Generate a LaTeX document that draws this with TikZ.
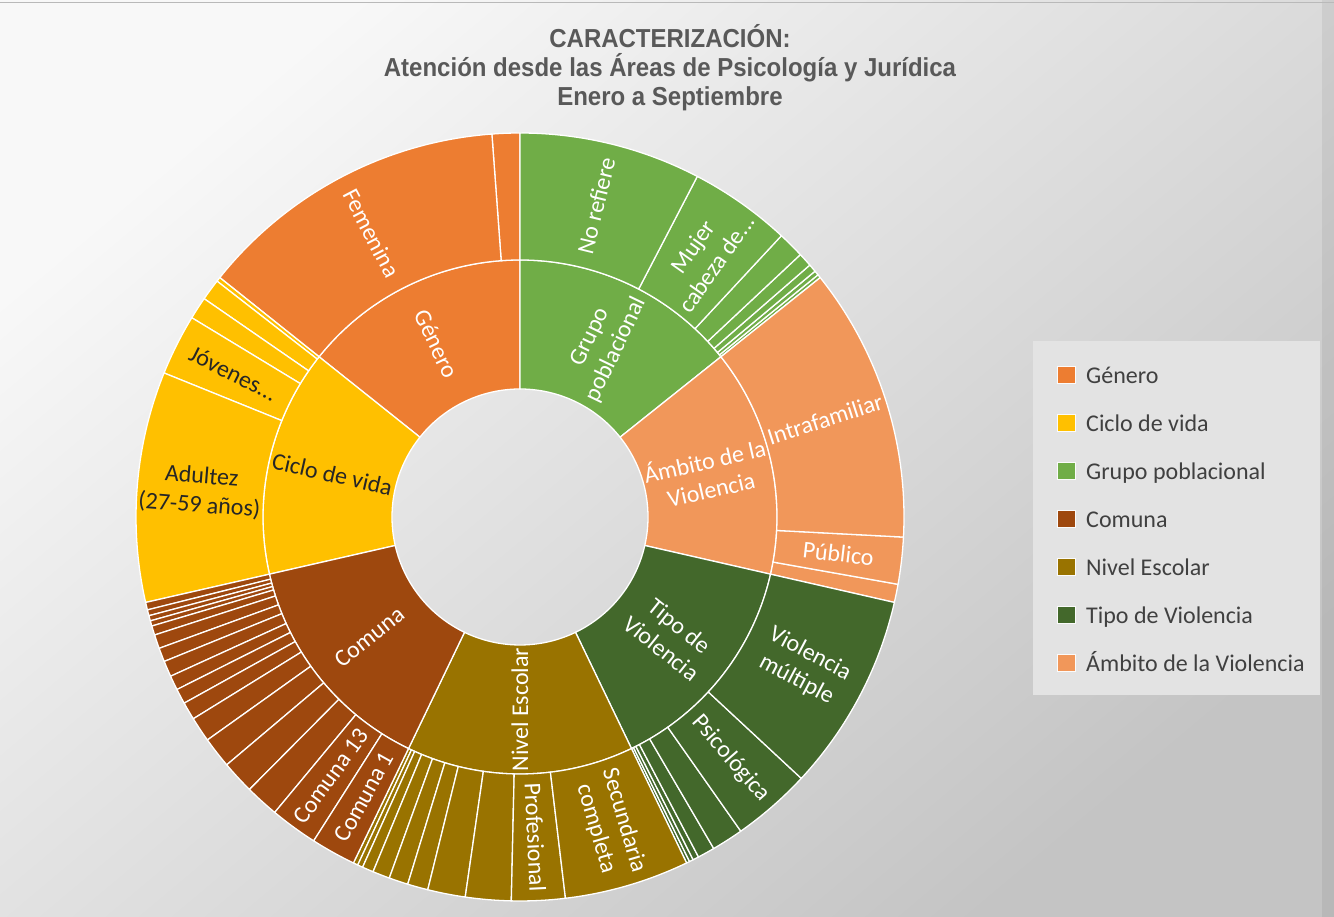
\documentclass[tikz,border=0pt]{standalone}
\usepackage{fontspec}
\setmainfont{Carlito}
\newfontfamily\titlef{Liberation Sans}
\definecolor{cG}{HTML}{ED7D31}
\definecolor{cY}{HTML}{FFC000}
\definecolor{cP}{HTML}{70AD47}
\definecolor{cC}{HTML}{9E480E}
\definecolor{cN}{HTML}{997300}
\definecolor{cT}{HTML}{43682B}
\definecolor{cA}{HTML}{F1975A}
\definecolor{bgin}{HTML}{F8F8F8}
\definecolor{bgout}{HTML}{C4C4C4}
\definecolor{legbg}{HTML}{E3E3E3}
\definecolor{titlec}{HTML}{595959}
\definecolor{legtxt}{HTML}{404040}
\definecolor{txtdark}{HTML}{262626}
\newcommand\lblf{\fontsize{24}{29}\selectfont}
\newcommand\sunseg[5]{\fill[#5, seg] (#1:#3) arc[start angle=#1, end angle=#2, radius=#3] -- (#2:#4) arc[start angle=#2, end angle=#1, radius=#4] -- cycle;}
\tikzset{
  seg/.style={draw=white, line width=1.3pt, line join=round},
  lblW/.style={text=white, font=\lblf, align=center, inner sep=0pt},
  lblD/.style={lblW, text=txtdark},
  ttl/.style={text=titlec, font=\titlef\bfseries\fontsize{26}{29}\selectfont, inner sep=0pt, anchor=base},
  legt/.style={text=legtxt, font=\fontsize{24}{29}\selectfont, inner sep=0pt, anchor=base west},
}
\begin{document}
\begin{tikzpicture}[x=1pt,y=1pt]
\useasboundingbox (0,0) rectangle (1334,917);
% background
\shade[top color=bgin, bottom color=bgout, shading angle=40] (0,0) rectangle (1334,917);
\fill[black, opacity=0.06] (1322,0) rectangle (1334,917);
\draw[gray!55, line width=1pt] (0,914.5) -- (1334,914.5);
% title
\node[ttl] (t1) at (670,869) {\scalebox{0.923}[1]{CARACTERIZACIÓN:}};
\node[ttl] (t2) at (670,840) {\scalebox{0.923}[1]{Atención desde las Áreas de Psicología y Jurídica}};
\node[ttl] (t3) at (670,811) {\scalebox{0.923}[1]{Enero a Septiembre}};
% sunburst
\begin{scope}[shift={(520,400)}]
  % inner ring
  \sunseg{90}{141.43}{128}{257}{cG}
  \sunseg{141.43}{192.86}{128}{257}{cY}
  \sunseg{38.57}{90}{128}{257}{cP}
  \sunseg{-12.86}{38.57}{128}{257}{cA}
  \sunseg{-64.29}{-12.86}{128}{257}{cT}
  \sunseg{-115.71}{-64.29}{128}{257}{cN}
  \sunseg{192.86}{244.29}{128}{257}{cC}
  % outer ring
  \foreach \a/\b in {90/94.2, 94.2/141.43}{\sunseg{\a}{\b}{257}{384}{cG}}
  \foreach \a/\b in {141.43/142.1, 142.1/145.35, 145.35/148.74, 148.74/157.97, 157.97/192.86}{\sunseg{\a}{\b}{257}{384}{cY}}
  \foreach \a/\b in {38.57/39.1, 39.1/39.8, 39.8/41.0, 41.0/43.1, 43.1/47.1, 47.1/62.5, 62.5/90}{\sunseg{\a}{\b}{257}{384}{cP}}
  \foreach \a/\b in {-12.86/-10.1, -10.1/-3.0, -3.0/38.57}{\sunseg{\a}{\b}{257}{384}{cA}}
  \foreach \a/\b in {-64.29/-63.8, -63.8/-63.2, -63.2/-62.3, -62.3/-59.7, -59.7/-54.9, -54.9/-42.9, -42.9/-12.86}{\sunseg{\a}{\b}{257}{384}{cT}}
  \foreach \a/\b in {-115.71/-115.0, -115.0/-114.2, -114.2/-112.5, -112.5/-109.9, -109.9/-107.0, -107.0/-103.9, -103.9/-98.2, -98.2/-91.3, -91.3/-83.2, -83.2/-64.29}{\sunseg{\a}{\b}{257}{384}{cN}}
  \foreach \a/\b in {192.86/194.0, 194.0/194.9, 194.9/195.7, 195.7/196.5, 196.5/197.9, 197.9/200.0, 200.0/202.1, 202.1/204.5, 204.5/206.7, 206.7/209.0, 209.0/211.7, 211.7/215.5, 215.5/220.2, 220.2/225.2, 225.2/230.3, 230.3/237.5, 237.5/244.29}{\sunseg{\a}{\b}{257}{384}{cC}}
  % inner labels
  \node[lblW, rotate=-64.29] (lgen) at (115.71:192.5) {Género};
  \node[lblD, rotate=-12.86] (lcic) at (167.14:192.5) {Ciclo de vida};
  \node[lblW, rotate=64.29] (lgru) at (64.29:192.5) {Grupo\\poblacional};
  \node[lblW, rotate=12.86] (lamb) at (12.86:192.5) {Ámbito de la\\Violencia};
  \node[lblW, rotate=-38.57] (ltip) at (-38.57:192.5) {Tipo de\\Violencia};
  \node[lblW, rotate=90] (lniv) at (-90:192.5) {Nivel Escolar};
  \node[lblW, rotate=38.57] (lcom) at (-141.43:192.5) {Comuna};
  % outer labels
  \node[lblW, rotate=-62.4] (lfem) at (117.6:320.5) {Femenina};
  \node[lblW, rotate=76.25] (lnor) at (76.25:320.5) {No refiere};
  \node[lblW, rotate=54.8] (lmuj) at (54.8:320.5) {Mujer\\cabeza de...};
  \node[lblW, rotate=17.8] (lint) at (17.8:320.5) {Intrafamiliar};
  \node[lblW, rotate=-6.55] (lpub) at (-6.55:320.5) {Público};
  \node[lblW, rotate=-27.9] (lvmu) at (-27.9:320.5) {Violencia\\múltiple};
  \node[lblW, rotate=-48.9] (lpsi) at (-48.9:320.5) {Psicológica};
  \node[lblW, rotate=-73.7] (lsec) at (-73.7:320.5) {Secundaria\\completa};
  \node[lblW, rotate=-87.25] (lpro) at (-87.25:320.5) {Profesional};
  \node[lblW, rotate=60.9] (lc1) at (-119.1:320.5) {Comuna 1};
  \node[lblW, rotate=53.9] (lc13) at (-126.1:320.5) {Comuna 13};
  \node[lblD, rotate=-4.6] (ladu) at (175.4:320.5) {Adultez\\(27-59 años)};
  \node[lblD, rotate=-26.6] (ljov) at (153.4:320.5) {Jóvenes...};
\end{scope}
% legend
\fill[legbg] (1033,222) rectangle (1320,576);
\foreach \i/\c/\t in {0/cG/Género, 1/cY/Ciclo de vida, 2/cP/Grupo poblacional, 3/cC/Comuna, 4/cN/Nivel Escolar, 5/cT/Tipo de Violencia, 6/cA/Ámbito de la Violencia}{
  \fill[\c, draw=white!85!legbg, line width=0.6pt] (1057,542-48*\i-8.5) rectangle ++(18,17);
  \node[legt] (leg\i) at (1086,542-48*\i-8.5) {\t};
}
\end{tikzpicture}
\end{document}
